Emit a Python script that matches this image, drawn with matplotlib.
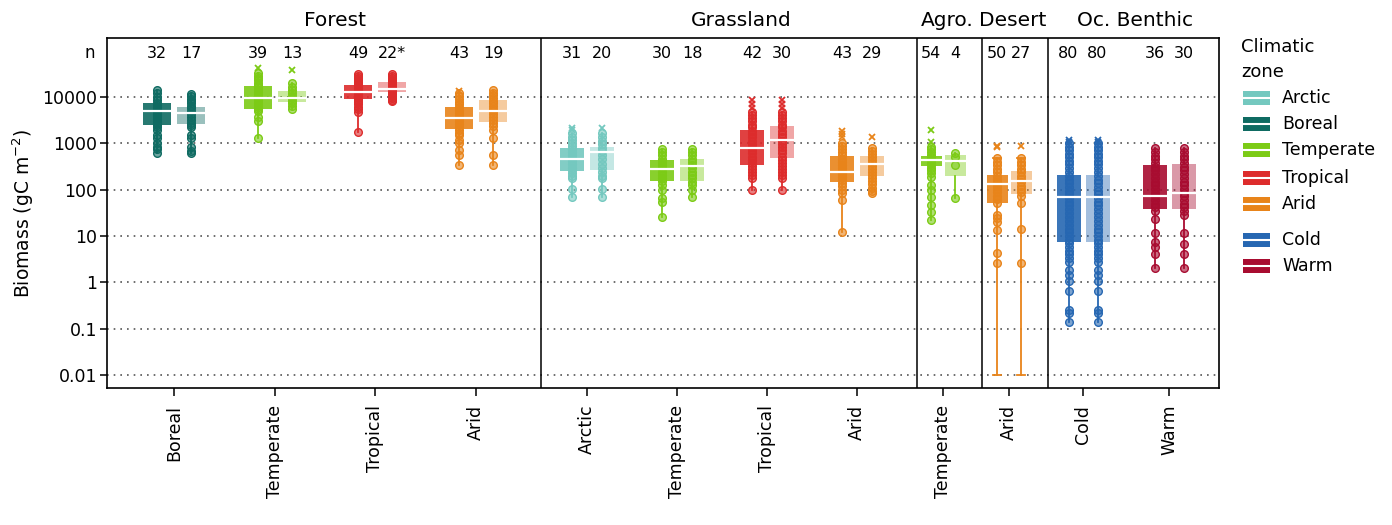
import matplotlib
matplotlib.use("Agg")
import matplotlib.pyplot as plt
import matplotlib.transforms as mtransforms
from matplotlib.colors import to_rgba
from matplotlib.patches import Rectangle
from matplotlib.lines import Line2D

plt.rcParams['font.family'] = ['DejaVu Sans']

# ---------------- data ----------------
sections = ['Forest', 'Grassland', 'Agro.', 'Desert', 'Oc. Benthic']
section_of = [0, 0, 0, 0, 1, 1, 1, 1, 2, 3, 4, 4]
categories = ['Boreal', 'Temperate', 'Tropical', 'Arid',
              'Arctic', 'Temperate', 'Tropical', 'Arid',
              'Temperate', 'Arid', 'Cold', 'Warm']
n_all = ['32', '39', '49', '43', '31', '30', '42', '43', '54', '50', '80', '36']
n_sub = ['17', '13', '22*', '19', '20', '18', '30', '29', '4', '27', '80', '30']

q1_all = [2480, 5500, 8920, 2000, 256, 156, 340, 144, 324, 51, 7.5, 38]
med_all = [4990, 9360, 13000, 3470, 451, 274, 803, 244, 436, 132, 68, 74]
q3_all = [7540, 17300, 18100, 6170, 803, 436, 1940, 532, 540, 207, 207, 340]

q1_sub = [2570, 7900, 12600, 2930, 265, 156, 474, 200, 200, 79, 7.5, 38]
med_sub = [4580, 9660, 15100, 4990, 659, 324, 1180, 352, 410, 156, 68, 83]
q3_sub = [6170, 13500, 20800, 8610, 845, 451, 2370, 540, 558, 253, 207, 357]

out_all = [[], [41700], [], [13600], [2170, 1940], [], [8600, 7060, 5700],
           [1870, 1590, 1350], [1940, 1085], [890, 820], [1180, 1050], []]
out_sub = [[], [38300], [], [], [2170], [], [8600, 7060, 5700],
           [1350], [], [890], [1180, 1050], []]

pts_all = [
    [14100, 12000, 10200, 8600, 7600, 6800, 6100, 5500, 4900, 4300, 3800, 3400,
     3000, 2700, 2450, 2200, 1900, 1510, 1280, 1000, 820, 740, 610],
    [32500, 29000, 26000, 23000, 20500, 18500, 16500, 14500, 13000, 11500, 10500,
     9500, 8500, 7600, 6800, 6100, 5500, 4900, 3640, 3100, 1280],
    [31400, 28500, 26000, 23500, 21500, 19500, 17500, 15800, 14300, 13000, 11800,
     10700, 9700, 8800, 7900, 7000, 6200, 5500, 4820, 1780],
    [12000, 10500, 9200, 8000, 7000, 6100, 5300, 4600, 4000, 3500, 3000, 2600,
     2250, 1950, 1700, 1510, 1180, 1000, 716, 558, 340],
    [1640, 1400, 1200, 1000, 870, 750, 650, 560, 480, 410, 350, 300, 260, 225,
     200, 175, 101, 70],
    [742, 640, 550, 470, 400, 340, 290, 245, 210, 180, 155, 126, 98, 65, 55, 26],
    [4820, 4100, 3500, 3000, 2550, 2200, 1850, 1580, 1350, 1150, 980, 840, 720,
     610, 520, 440, 380, 320, 275, 245, 207, 175, 98],
    [1000, 860, 740, 640, 550, 470, 400, 340, 290, 250, 215, 185, 160, 138, 118,
     100, 83, 60, 12],
    [845, 740, 650, 570, 500, 440, 385, 340, 300, 260, 225, 190, 126, 98, 70,
     46, 33, 22],
    [474, 400, 340, 285, 240, 200, 170, 145, 122, 103, 87, 73, 62, 52, 28, 24,
     20, 13.4, 4.2, 2.6],
    [1000, 850, 720, 600, 500, 420, 350, 290, 240, 200, 165, 137, 114, 95, 79,
     66, 55, 46, 38, 31, 26, 21, 17.5, 14.5, 12, 10, 8.3, 7, 5.8, 4.8, 4.0, 3.3,
     2.7, 1.83, 1.43, 1.07, 0.66, 0.25, 0.22, 0.14],
    [780, 650, 540, 450, 375, 310, 260, 215, 180, 150, 125, 104, 86, 72, 60, 50,
     42, 35, 22.8, 11.7, 7.5, 5.8, 4.1, 2.0],
]
pts_sub = [
    [11600, 10300, 9200, 8200, 7300, 6500, 5800, 5000, 4300, 3700, 3200, 2800,
     2500, 2200, 1510, 1280, 820, 700, 610],
    [19800, 16500, 14000, 12000, 10500, 9300, 8300, 7300, 6500, 5420],
    [31400, 28500, 26000, 23500, 21500, 19500, 17500, 15800, 14300, 13000, 11800,
     10700, 9700, 8800, 8300],
    [14100, 12300, 10800, 9500, 8300, 7300, 6400, 5600, 4900, 4300, 3700, 3200,
     2800, 2400, 1900, 1280, 558, 340],
    [1640, 1400, 1150, 950, 800, 680, 560, 450, 360, 290, 240, 200, 175, 101, 70],
    [742, 640, 550, 470, 400, 340, 290, 245, 210, 180, 150, 126, 98, 70],
    [4820, 4100, 3500, 3000, 2550, 2200, 1850, 1580, 1350, 1150, 980, 840, 720,
     610, 520, 440, 380, 320, 275, 245, 207, 175, 98],
    [780, 680, 590, 510, 440, 380, 330, 285, 245, 210, 180, 155, 130, 110, 95, 86],
    [627, 513, 339, 65],
    [474, 400, 340, 285, 240, 200, 170, 145, 122, 103, 87, 73, 51, 14, 2.6],
    [1000, 850, 720, 600, 500, 420, 350, 290, 240, 200, 165, 137, 114, 95, 79,
     66, 55, 46, 38, 31, 26, 21, 17.5, 14.5, 12, 10, 8.3, 7, 5.8, 4.8, 4.0, 3.3,
     2.7, 1.83, 1.43, 1.07, 0.66, 0.25, 0.22, 0.14],
    [780, 650, 540, 450, 375, 310, 260, 215, 180, 150, 125, 104, 86, 72, 60, 50,
     42, 35, 29, 11.7, 6.8, 4.1, 2.0],
]
# zero values drawn at the axis floor (desert)
has_zero = [False] * 9 + [True] + [False] * 2
zero_floor = 0.01

zone_colors = {
    'Arctic': '#74C8BF',
    'Boreal': '#0F6B62',
    'Temperate': '#7CCB16',
    'Tropical': '#DD2C2C',
    'Arid': '#E8841A',
    'Cold': '#2667B2',
    'Warm': '#A80C30',
}
legend_zones = ['Arctic', 'Boreal', 'Temperate', 'Tropical', 'Arid', 'Cold', 'Warm']

# ---------------- layout ----------------
W, H = 1392, 525
group_x = [174, 275, 375, 476, 587, 677, 767, 857, 943, 1009, 1083, 1169]
pair_dx = [17, 15, 12, 12, 14.5]
box_w = [28, 24, 21, 21, 24]
section_edges = [107, 541, 917, 982, 1048, 1219]
title_x = [335, 741, 947, 1013, 1135]

fig = plt.figure(figsize=(W / 100, H / 100), dpi=100)
ax = fig.add_axes([107 / W, 1 - 388 / H, (1219 - 107) / W, 350 / H])
ax.set_yscale('log')
ax.set_xlim(section_edges[0], section_edges[-1])
ax.set_ylim(10 ** -2.281, 10 ** 5.274)

yt = [0.01, 0.1, 1, 10, 100, 1000, 10000]
for v in yt:
    ax.axhline(v, color='#555555', lw=1.2, ls=(0, (1, 3)), zorder=0)
for xe in section_edges[1:-1]:
    ax.axvline(xe, color='black', lw=1.1, zorder=1)


def draw_box(x, w, q1, med, q3, pts, fliers, color, alpha, zero):
    lo = zero_floor if zero else min(pts)
    st = dict(med=med, q1=q1, q3=q3, whislo=lo, whishi=max(pts), fliers=fliers)
    ax.bxp([st], positions=[x], widths=w, patch_artist=True,
           showcaps=zero, capwidths=w * 0.4, manage_ticks=False,
           boxprops=dict(facecolor=to_rgba(color, alpha), edgecolor='none', lw=0),
           whiskerprops=dict(color=color, lw=1.3),
           capprops=dict(color=color, lw=1.3),
           medianprops=dict(color='white', lw=1.6, zorder=6),
           flierprops=dict(marker='x', markeredgecolor=color, markersize=5,
                           markeredgewidth=1.3, linestyle='none'))
    ax.plot([x] * len(pts), pts, 'o', ms=5.5, mfc=to_rgba(color, 0.6),
            mec=color, mew=1.0, zorder=4)


for i, cat in enumerate(categories):
    s = section_of[i]
    c = zone_colors[cat]
    xa = group_x[i] - pair_dx[s]
    xb = group_x[i] + pair_dx[s]
    draw_box(xa, box_w[s], q1_all[i], med_all[i], q3_all[i], pts_all[i],
             out_all[i], c, 0.9, has_zero[i])
    draw_box(xb, box_w[s], q1_sub[i], med_sub[i], q3_sub[i], pts_sub[i],
             out_sub[i], c, 0.42, has_zero[i])
    ax.text(xa, 10 ** 4.95, n_all[i], ha='center', va='center', fontsize=11.5)
    ax.text(xb, 10 ** 4.95, n_sub[i], ha='center', va='center', fontsize=11.5)

trans_lab = mtransforms.blended_transform_factory(ax.transAxes, ax.transData)
ax.text(-0.0153, 10 ** 4.95, 'n', ha='center', va='center', fontsize=12,
        transform=trans_lab)

trans_top = mtransforms.blended_transform_factory(ax.transData, ax.transAxes)
for name, tx in zip(sections, title_x):
    ax.text(tx, 1.051, name, ha='center', va='center', fontsize=14.5,
            transform=trans_top)

ax.set_yticks(yt)
ax.set_yticklabels(['0.01', '0.1', '1', '10', '100', '1000', '10000'])
ax.yaxis.set_minor_locator(matplotlib.ticker.NullLocator())
ax.set_xticks(group_x)
ax.set_xticklabels(categories, rotation=90)
ax.tick_params(axis='y', labelsize=12.5, length=5, width=1.1, pad=2)
ax.tick_params(axis='x', labelsize=12.5, length=6, width=1.1, pad=6)
ax.set_ylabel('Biomass (gC m$^{-2}$)', fontsize=13.5)
ax.yaxis.set_label_coords(-0.064, 0.5)
for sp in ax.spines.values():
    sp.set_linewidth(1.2)

# ---------------- legend ----------------
fig.text(1241 / W, 1 - 47 / H, 'Climatic', fontsize=13, va='center', ha='left')
fig.text(1241 / W, 1 - 72 / H, 'zone', fontsize=13, va='center', ha='left')
leg_y = [98, 124, 150, 178, 204, 240, 266]
for zone, yy in zip(legend_zones, leg_y):
    c = zone_colors[zone]
    fig.patches.append(Rectangle((1243 / W, 1 - (yy + 7) / H), 27 / W, 14 / H,
                                 transform=fig.transFigure, facecolor=c,
                                 edgecolor='none'))
    fig.lines.append(Line2D([1243 / W, 1270 / W], [1 - yy / H, 1 - yy / H],
                            transform=fig.transFigure, color='white', lw=1.5))
    fig.text(1282 / W, 1 - yy / H, zone, fontsize=12.5, va='center', ha='left')

fig.savefig('out.png', dpi=100)
